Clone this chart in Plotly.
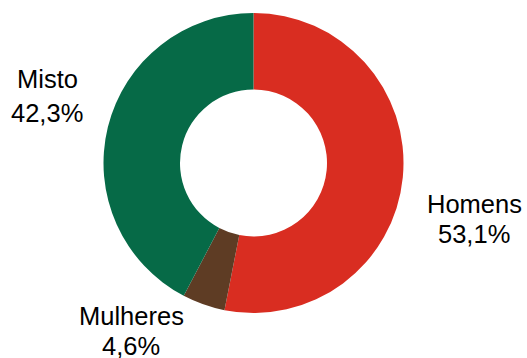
import plotly.graph_objects as go

# Share of teams by category
categories = ["Homens", "Mulheres", "Misto"]
shares = [53.1, 4.6, 42.3]
colors = ["#D92D21", "#5E3C24", "#066A47"]

W, H = 527, 358

fig = go.Figure(go.Pie(
    labels=categories,
    values=shares,
    sort=False,
    direction="clockwise",
    rotation=0,
    hole=0.49,
    marker=dict(colors=colors, line=dict(width=0)),
    textinfo="none",
    hoverinfo="label+percent",
    showlegend=False,
    domain=dict(x=[103.5 / W, 403.5 / W], y=[1 - 313 / H, 1 - 13 / H]),
))

# Label positions (pixel centres of name line and value line)
label_pos = {
    "Homens": (474, 204, 234),
    "Mulheres": (131, 316, 346),
    "Misto": (47, 79, 113),
}

def fmt(v):
    return f"{v:.1f}".replace(".", ",") + "%"

font = dict(family="Liberation Sans, Arial, sans-serif", size=25.5, color="#000000")
annotations = []
for name, val in zip(categories, shares):
    x, y1, y2 = label_pos[name]
    for text, y in ((name, y1), (fmt(val), y2)):
        annotations.append(dict(
            x=x / W, y=1 - y / H, xref="paper", yref="paper",
            text=text, showarrow=False, font=font,
            xanchor="center", yanchor="middle",
        ))

fig.update_layout(
    width=W, height=H,
    margin=dict(l=0, r=0, t=0, b=0),
    paper_bgcolor="white", plot_bgcolor="white",
    annotations=annotations,
)

fig.write_html("out.html")
